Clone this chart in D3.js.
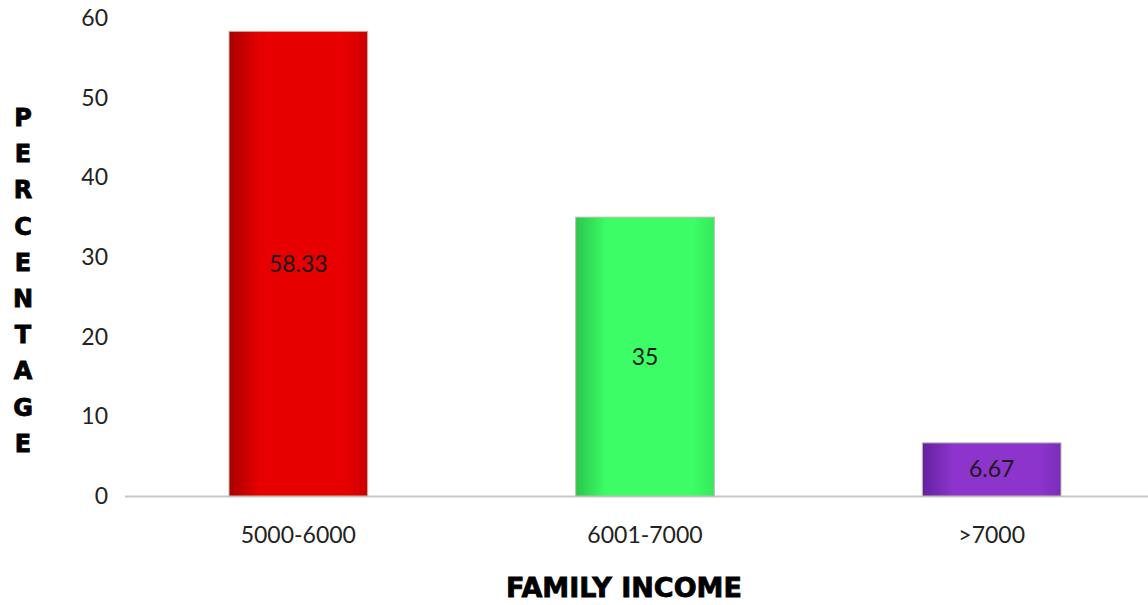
<!DOCTYPE html>
<html>
<head>
<meta charset="utf-8">
<script src="https://cdn.jsdelivr.net/npm/d3@7"></script>
<style>
  body { margin: 0; background: #fff; }
  svg { display: block; }
</style>
</head>
<body>
<div id="chartContainer"></div>
<script>
var categories = ["5000-6000", "6001-7000", ">7000"];
var values = [58.33, 35, 6.67];
var valueLabels = ["58.33", "35", "6.67"];
var yTicks = [0, 10, 20, 30, 40, 50, 60];

var barColors = [
  { dark: "#a80000", mid: "#e60000", edge: "#cc0000" },
  { dark: "#2cc44c", mid: "#3cfd66", edge: "#36e85c" },
  { dark: "#6420a0", mid: "#8c34cc", edge: "#7a2cb8" }
];

var width = 1148, height = 605;
var plotLeft = 125, plotRight = 1165, plotTop = 18, plotBottom = 496;
var labelFont = "Lato, Carlito, sans-serif";

var svg = d3.select("#chartContainer")
  .append("svg")
  .attr("width", width)
  .attr("height", height);

var defs = svg.append("defs");
barColors.forEach(function(c, i) {
  var g = defs.append("linearGradient")
    .attr("id", "grad" + i)
    .attr("x1", "0%").attr("x2", "100%").attr("y1", "0%").attr("y2", "0%");
  g.append("stop").attr("offset", "0%").attr("stop-color", c.dark);
  g.append("stop").attr("offset", "22%").attr("stop-color", c.mid);
  g.append("stop").attr("offset", "85%").attr("stop-color", c.mid);
  g.append("stop").attr("offset", "100%").attr("stop-color", c.edge);
});

var x = d3.scaleBand()
  .domain(categories)
  .range([plotLeft, plotRight])
  .paddingInner(0.6)
  .paddingOuter(0.3);

var y = d3.scaleLinear()
  .domain([0, 60])
  .range([plotBottom, plotTop]);

// y tick labels
var yAxis = svg.append("g")
  .attr("transform", "translate(" + plotLeft + ",0)")
  .call(d3.axisLeft(y).tickValues(yTicks).tickSize(0).tickPadding(17));
yAxis.select(".domain").remove();
yAxis.selectAll("text")
  .attr("font-family", labelFont)
  .attr("font-size", "23px")
  .attr("fill", "#222");

// x axis line
svg.append("line")
  .attr("x1", plotLeft).attr("x2", plotRight)
  .attr("y1", y(0) + 0.5).attr("y2", y(0) + 0.5)
  .attr("stroke", "#c8c8c8")
  .attr("stroke-width", 2);

// bars
svg.selectAll(".bar")
  .data(values)
  .enter()
  .append("rect")
  .attr("class", "bar")
  .attr("x", function(d, i) { return x(categories[i]); })
  .attr("y", function(d) { return y(d); })
  .attr("width", x.bandwidth())
  .attr("height", function(d) { return y(0) - y(d); })
  .attr("fill", function(d, i) { return "url(#grad" + i + ")"; })
  .attr("stroke", "#b8c0a8")
  .attr("stroke-width", 1);

// value labels
svg.selectAll(".value")
  .data(values)
  .enter()
  .append("text")
  .attr("class", "value")
  .attr("x", function(d, i) { return x(categories[i]) + x.bandwidth() / 2; })
  .attr("y", function(d) { return (y(d) + y(0)) / 2 + 8; })
  .attr("text-anchor", "middle")
  .attr("font-family", labelFont)
  .attr("font-size", "23px")
  .attr("fill", "#1a1a1a")
  .text(function(d, i) { return valueLabels[i]; });

// x category labels
svg.selectAll(".cat")
  .data(categories)
  .enter()
  .append("text")
  .attr("class", "cat")
  .attr("x", function(d) { return x(d) + x.bandwidth() / 2; })
  .attr("y", 543)
  .attr("text-anchor", "middle")
  .attr("font-family", labelFont)
  .attr("font-size", "23px")
  .attr("fill", "#222")
  .text(function(d) { return d; });

// x axis title
svg.append("text")
  .attr("x", 624)
  .attr("y", 597)
  .attr("text-anchor", "middle")
  .attr("font-family", "'DejaVu Sans', sans-serif")
  .attr("font-weight", "900")
  .attr("font-size", "27px")
  .attr("fill", "#000")
  .attr("stroke", "#000")
  .attr("stroke-width", 0.8)
  .text("FAMILY INCOME");

// y axis title, stacked letters
var yTitle = "PERCENTAGE".split("");
svg.selectAll(".ytitle")
  .data(yTitle)
  .enter()
  .append("text")
  .attr("class", "ytitle")
  .attr("x", 23)
  .attr("y", function(d, i) { return 126 + i * 36.2; })
  .attr("text-anchor", "middle")
  .attr("font-family", "'DejaVu Sans', sans-serif")
  .attr("font-weight", "900")
  .attr("font-size", "24px")
  .attr("fill", "#000")
  .attr("stroke", "#000")
  .attr("stroke-width", 0.8)
  .text(function(d) { return d; });
</script>
</body>
</html>
